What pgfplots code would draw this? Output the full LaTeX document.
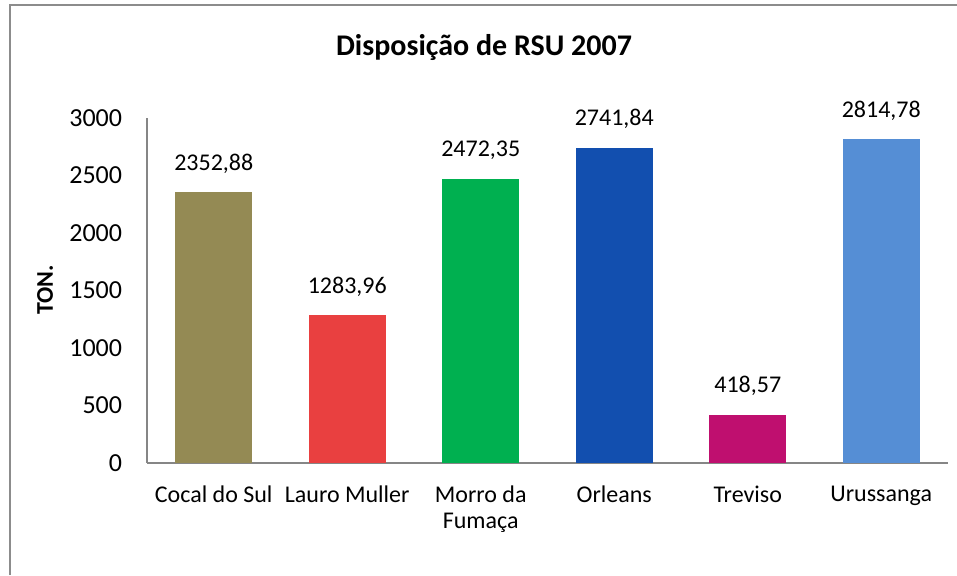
\documentclass[border=0pt]{standalone}
\usepackage{fontspec}
\setmainfont{Carlito}
\usepackage{pgfplots}
\pgfplotsset{compat=1.18}
\definecolor{cA}{HTML}{948A54}
\definecolor{cB}{HTML}{E94040}
\definecolor{cC}{HTML}{00B050}
\definecolor{cD}{HTML}{124FAF}
\definecolor{cE}{HTML}{BF0F6F}
\definecolor{cF}{HTML}{558ED5}
\definecolor{axgray}{HTML}{868686}
\definecolor{bordergray}{HTML}{8C8C8C}
\newcommand{\lbl}{\fontsize{18}{19.5}\selectfont}
\begin{document}
\begin{tikzpicture}
\path[use as bounding box] (0,0) rectangle (717.75pt,431.25pt);
\draw[bordergray, line width=1.5pt] (7.5pt,0) -- (7.5pt,427.5pt) -- (717.75pt,427.5pt);
\node[font=\fontsize{22.5}{24}\selectfont\bfseries] at (363pt,396pt) {Disposição de RSU 2007};
\node[font=\lbl\bfseries, rotate=90] at (33.75pt,213.75pt) {TON.};
\begin{axis}[
  at={(110.25pt,84pt)}, anchor=south west,
  scale only axis, width=600.75pt, height=258.75pt,
  xmin=-0.5, xmax=5.5, ymin=0, ymax=3000,
  axis lines*=left,
  axis line style={axgray, line width=1.1pt},
  ytick={0,500,1000,1500,2000,2500,3000},
  xtick={0,1,2,3,4,5},
  xticklabels={Cocal do Sul, Lauro Muller, Morro da\\Fumaça, Orleans, Treviso, Urussanga},
  major tick length=0pt,
  /pgf/number format/assume math mode=true,
  /pgf/number format/1000 sep={},
  yticklabel style={font=\fontsize{19.5}{21}\selectfont, anchor=east, inner sep=0pt, xshift=-18.5pt},
  xticklabel style={font=\lbl, align=center, anchor=north, inner sep=0pt, yshift=-17pt},
  ybar, bar width=57.75pt, bar shift=0pt,
  point meta=explicit symbolic,
  nodes near coords,
  nodes near coords style={font=\lbl, anchor=south, inner sep=0pt, yshift=14pt, black},
  clip=false,
]
\addplot[fill=cA, draw=none] coordinates {(0,2352.88) [2352,88]};
\addplot[fill=cB, draw=none] coordinates {(1,1283.96) [1283,96]};
\addplot[fill=cC, draw=none] coordinates {(2,2472.35) [2472,35]};
\addplot[fill=cD, draw=none] coordinates {(3,2741.84) [2741,84]};
\addplot[fill=cE, draw=none] coordinates {(4,418.57) [418,57]};
\addplot[fill=cF, draw=none] coordinates {(5,2814.78) [2814,78]};
\end{axis}
\end{tikzpicture}
\end{document}
